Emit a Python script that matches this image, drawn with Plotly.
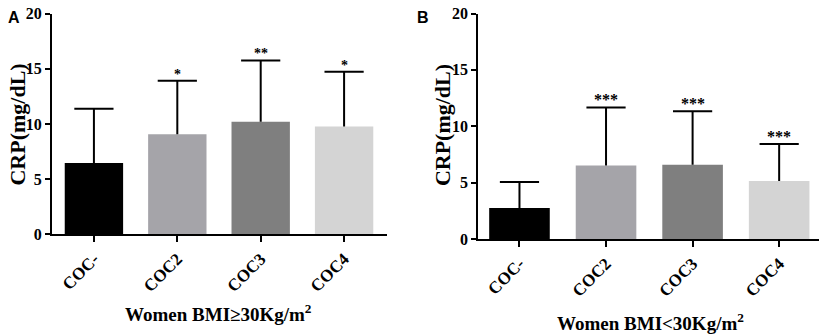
import plotly.graph_objects as go

categories = ["COC-", "COC2", "COC3", "COC4"]
bar_colors = ["#000000", "#a5a4a9", "#7f7f7f", "#d4d4d4"]

# Panel A: Women BMI>=30
a_mean = [6.47, 9.07, 10.2, 9.76]
a_upper = [11.38, 13.92, 15.75, 14.73]
a_stars = ["", "*", "**", "*"]

# Panel B: Women BMI<30
b_mean = [2.76, 6.53, 6.59, 5.14]
b_upper = [5.05, 11.67, 11.32, 8.42]
b_stars = ["", "***", "***", "***"]

y_ticks = [0, 5, 10, 15, 20]
x_pos = list(range(len(categories)))

SERIF = "Liberation Serif, Times New Roman, serif"
SANS = "Liberation Sans, Arial, sans-serif"
BLACK = "#000000"

fig = go.Figure()


def add_panel(means, uppers, stars, xa, ya, star_size):
    fig.add_trace(go.Bar(
        x=x_pos, y=means, width=0.7,
        marker=dict(color=bar_colors, line=dict(width=0)),
        xaxis=xa, yaxis=ya, showlegend=False, hoverinfo="skip"))
    sx, sy = [], []
    for i, (m, u) in enumerate(zip(means, uppers)):
        sx += [i, i, None]
        sy += [m, u, None]
    fig.add_trace(go.Scatter(
        x=sx, y=sy, mode="lines", line=dict(color=BLACK, width=2),
        xaxis=xa, yaxis=ya, showlegend=False, hoverinfo="skip"))
    fig.add_trace(go.Scatter(
        x=x_pos, y=uppers, mode="markers",
        marker=dict(symbol="line-ew", size=28, line=dict(color=BLACK, width=2)),
        xaxis=xa, yaxis=ya, showlegend=False, hoverinfo="skip"))
    for i, (u, s) in enumerate(zip(uppers, stars)):
        if s:
            fig.add_annotation(
                x=i, y=u, xref=xa, yref=ya, text="<b>" + s + "</b>", showarrow=False,
                yanchor="bottom", yshift=-3,
                font=dict(family=SERIF, size=star_size, color=BLACK))


add_panel(a_mean, a_upper, a_stars, "x", "y", 14)
add_panel(b_mean, b_upper, b_stars, "x2", "y2", 16)

xcommon = dict(
    tickvals=x_pos, ticktext=["<b>" + c + "</b>" for c in categories], tickangle=-45,
    ticks="outside", ticklen=6, tickwidth=2, tickcolor=BLACK,
    showline=True, linewidth=2, linecolor=BLACK,
    showgrid=False, zeroline=False, automargin=False,
    tickfont=dict(family=SERIF, size=17, color=BLACK),
)
ycommon = dict(
    range=[0, 20], tickvals=y_ticks, ticktext=["<b>%d</b>" % v for v in y_ticks],
    ticks="outside", ticklen=5, tickwidth=2, tickcolor=BLACK,
    showline=True, linewidth=2, linecolor=BLACK,
    showgrid=False, zeroline=False, automargin=False,
    ticklabeloverflow="allow",
    tickfont=dict(family=SERIF, size=16, color=BLACK),
)

# page body adds an 8px margin, so the figure is 8px smaller than the window
fig.update_layout(
    width=819, height=326,
    margin=dict(l=0, r=0, t=0, b=0, autoexpand=False),
    paper_bgcolor="white", plot_bgcolor="white",
    xaxis=dict(domain=[0.0537, 0.4628], range=[-0.503, 3.515], anchor="y", **xcommon),
    yaxis=dict(domain=[0.3058, 0.9831], anchor="x", **ycommon),
    xaxis2=dict(domain=[0.5742, 0.9976], range=[-0.476, 3.53], anchor="y2", **xcommon),
    yaxis2=dict(domain=[0.2914, 0.9831], anchor="x2", **ycommon),
)

# y-axis titles
for xp in [0.0116, 0.530]:
    fig.add_annotation(x=xp, y=0.641, xref="paper", yref="paper",
                       text="<b>CRP(mg/dL)</b>", showarrow=False, textangle=-90,
                       xanchor="center", yanchor="middle",
                       font=dict(family=SERIF, size=22, color=BLACK))

# x-axis titles
fig.add_annotation(x=0.2576, y=0.0644, xref="paper", yref="paper",
                   text="<b>Women BMI≥30Kg/m<sup>2</sup></b>", showarrow=False,
                   xanchor="center", yanchor="middle",
                   font=dict(family=SERIF, size=19, color=BLACK))
fig.add_annotation(x=0.7851, y=0.0368, xref="paper", yref="paper",
                   text="<b>Women BMI<30Kg/m<sup>2</sup></b>", showarrow=False,
                   xanchor="center", yanchor="middle",
                   font=dict(family=SERIF, size=19, color=BLACK))

# panel letters
fig.add_annotation(x=0.0, y=1.0, xref="paper", yref="paper", text="<b>A</b>", showarrow=False,
                   xanchor="left", yanchor="top", xshift=-2, yshift=1,
                   font=dict(family=SANS, size=16, color=BLACK))
fig.add_annotation(x=0.497, y=1.0, xref="paper", yref="paper", text="<b>B</b>", showarrow=False,
                   xanchor="left", yanchor="top", xshift=0, yshift=1,
                   font=dict(family=SANS, size=16, color=BLACK))

fig.write_html("out.html")
